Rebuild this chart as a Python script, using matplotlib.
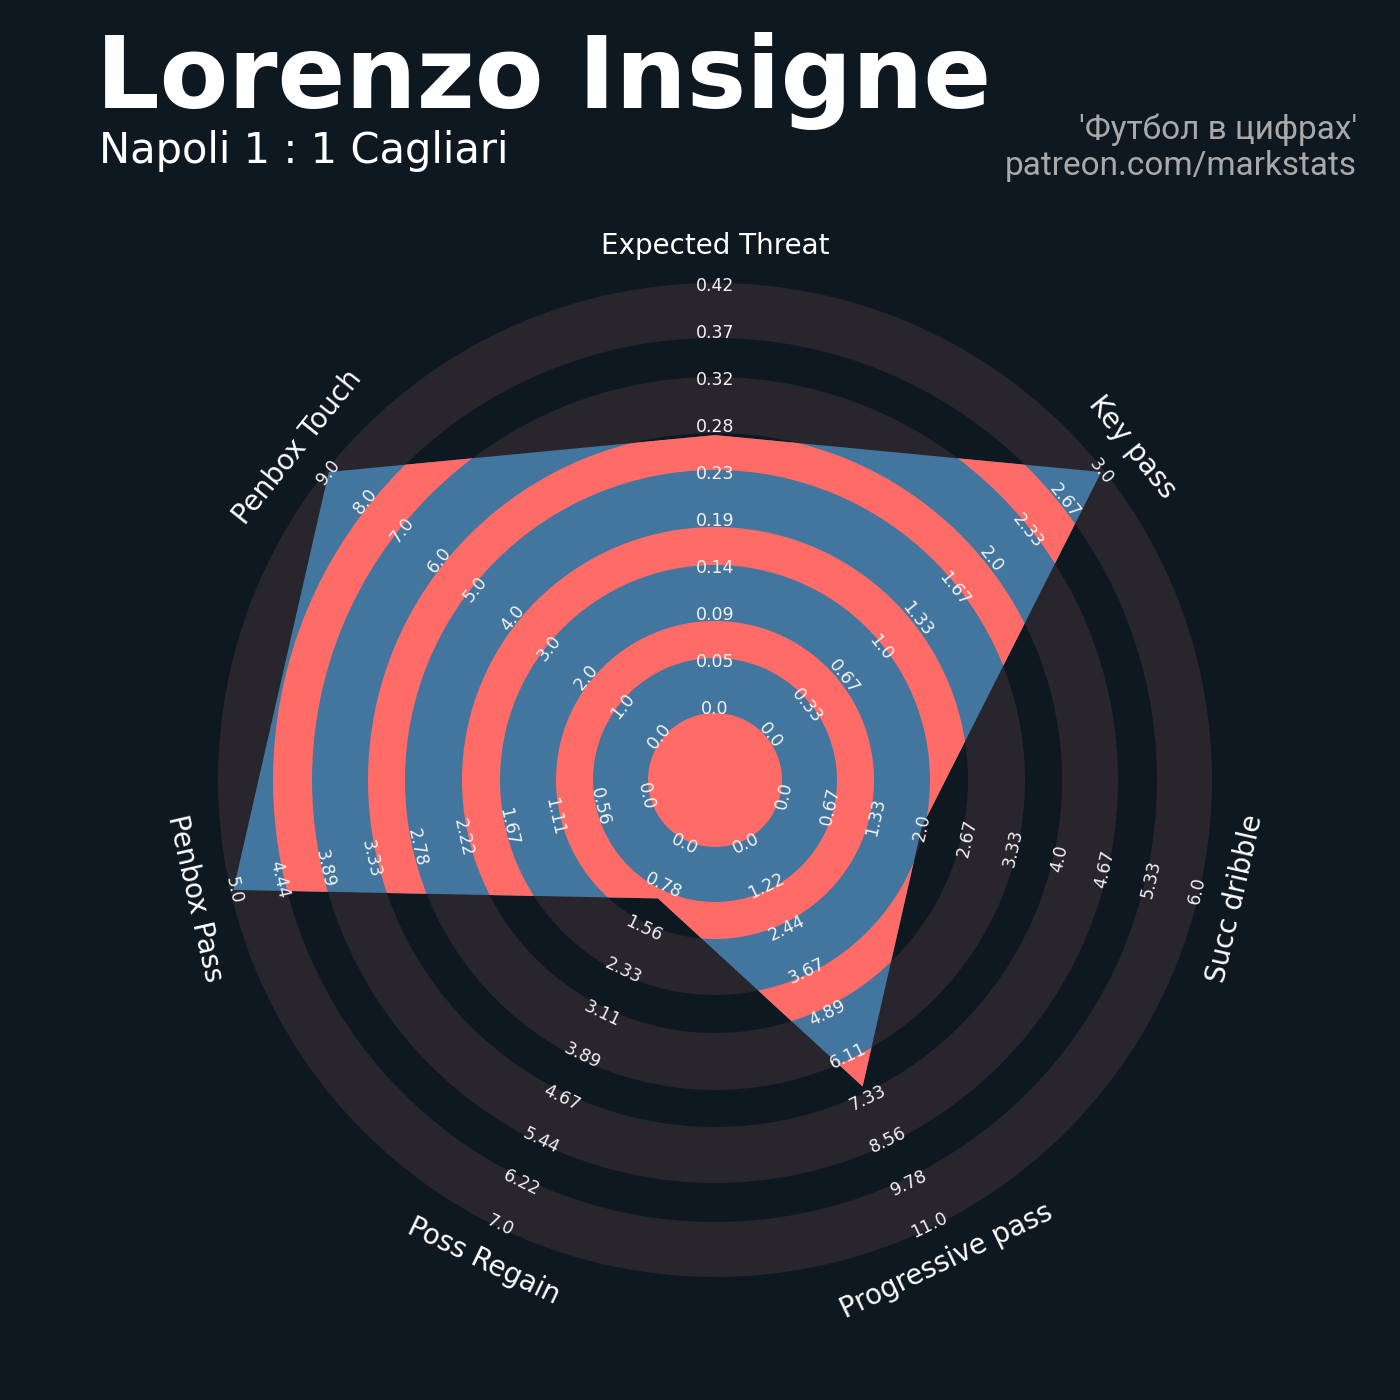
import numpy as np
import matplotlib
matplotlib.use("Agg")
import matplotlib.pyplot as plt
from matplotlib.patches import Wedge, Circle, Polygon

# ================== Data ==================
params = ["Expected Threat", "Key pass", "Succ dribble", "Progressive pass",
          "Poss Regain", "Penbox Pass", "Penbox Touch"]
low = [0.0, 0.0, 0.0, 0.0, 0.0, 0.0, 0.0]
high = [0.417, 3.0, 6.0, 11.0, 7.0, 5.0, 9.0]
values = [0.27, 3.0, 2.0, 7.0, 1.0, 5.0, 9.0]

title = "Lorenzo Insigne"
subtitle = "Napoli 1 : 1 Cagliari"
credit = ["'Футбол в цифрах'", "patreon.com/markstats"]

# ================== Style ==================
bg = "#0E1820"
ring_grey = "#28252C"
blue = "#42769F"
salmon = "#FF6C68"

# ring edges (in px units around the centre)
edges = [67, 122, 159, 215, 253, 310, 347, 403, 442, 497]
r0, r1 = 71, 494      # radius of low / high value
n_labels = 10

fig = plt.figure(figsize=(14, 14), dpi=100, facecolor=bg)
ax = fig.add_axes([0, 0, 1, 1])
ax.set_facecolor(bg)
ax.set_xlim(-715, 685)
ax.set_ylim(-620, 780)
ax.axis("off")

n = len(params)
thetas = 90 - np.arange(n) * 360 / n   # degrees, clockwise from top


def to_r(v, lo, hi):
    return r0 + (v - lo) / (hi - lo) * (r1 - r0)


def rot_for(theta):
    rot = (theta - 90 + 180) % 360 - 180
    if rot > 90:
        rot -= 180
    elif rot < -90:
        rot += 180
    return rot


# background rings (wide bands)
for k in range(0, len(edges) - 1, 2):
    ax.add_patch(Wedge((0, 0), edges[k + 1], 0, 360, width=edges[k + 1] - edges[k],
                       fc=ring_grey, ec="none", zorder=1))

# radar polygon
pts = []
for th, v, lo, hi in zip(thetas, values, low, high):
    r = to_r(min(v, hi), lo, hi)
    pts.append((r * np.cos(np.radians(th)), r * np.sin(np.radians(th))))
poly = Polygon(pts, closed=True, fc=blue, ec="none", zorder=2)
ax.add_patch(poly)

# salmon rings inside the polygon (centre circle + narrow bands)
c = Circle((0, 0), edges[0], fc=salmon, ec="none", zorder=3)
ax.add_patch(c)
c.set_clip_path(poly)
for k in range(1, len(edges) - 1, 2):
    w = Wedge((0, 0), edges[k + 1], 0, 360, width=edges[k + 1] - edges[k],
              fc=salmon, ec="none", zorder=3)
    ax.add_patch(w)
    w.set_clip_path(poly)

# range labels
for th, lo, hi in zip(thetas, low, high):
    rot = rot_for(th)
    for j, lab in enumerate(np.linspace(lo, hi, n_labels)):
        r = r0 + j / (n_labels - 1) * (r1 - r0)
        ax.text(r * np.cos(np.radians(th)), r * np.sin(np.radians(th)),
                str(float(round(lab, 2))), color="#F2F2F2", fontsize=12.5,
                ha="center", va="center", rotation=rot,
                rotation_mode="anchor", zorder=5)

# parameter labels
for th, p in zip(thetas, params):
    r = 534
    ax.text(r * np.cos(np.radians(th)), r * np.sin(np.radians(th)), p,
            color="white", fontsize=20, ha="center", va="center",
            rotation=rot_for(th), rotation_mode="anchor", zorder=5)

# titles
fig.text(96 / 1400, 1 - 108 / 1400, title, color="white", fontsize=72,
         fontweight="bold", ha="left", va="baseline")
fig.text(99 / 1400, 1 - 163 / 1400, subtitle, color="white", fontsize=30,
         ha="left", va="baseline")
fig.text(1357 / 1400, 1 - 139 / 1400, credit[0], color="#A9A9A9", fontsize=24,
         family=["Roboto", "DejaVu Sans"], ha="right", va="baseline")
fig.text(1357 / 1400, 1 - 175 / 1400, credit[1], color="#A9A9A9", fontsize=24,
         family=["Roboto", "DejaVu Sans"], ha="right", va="baseline")

fig.savefig("out.png", dpi=100, facecolor=bg)
